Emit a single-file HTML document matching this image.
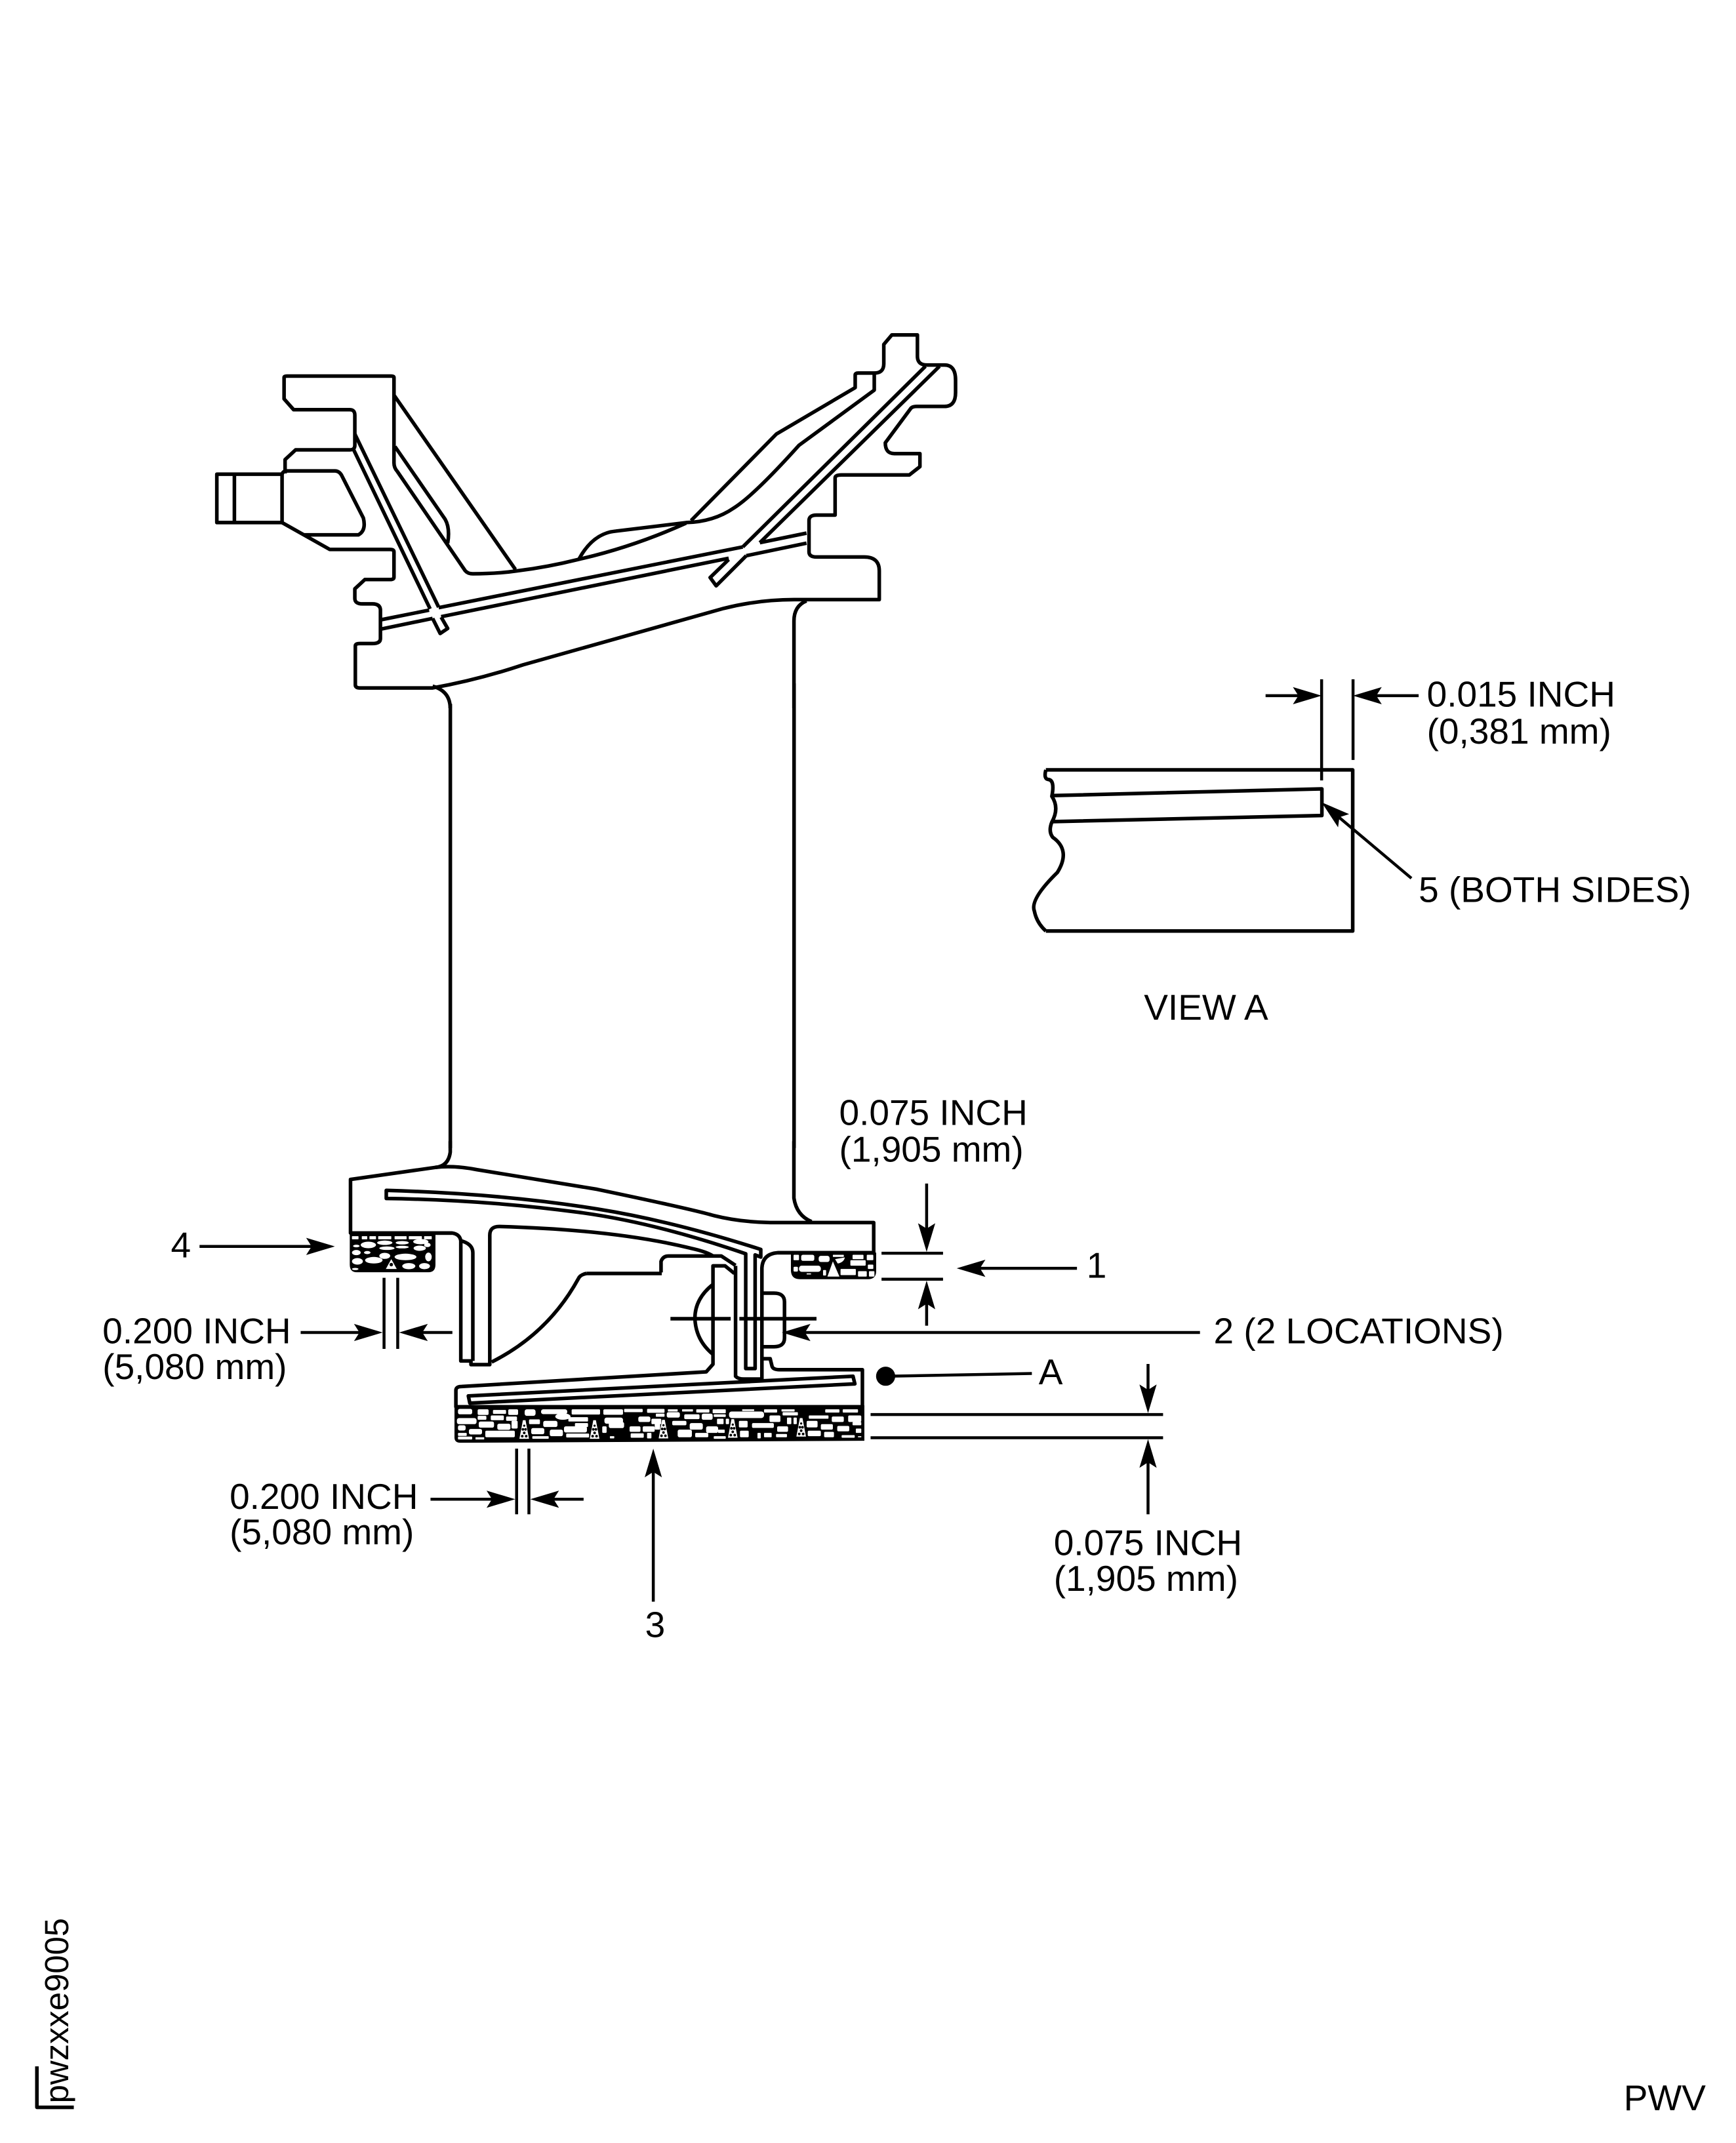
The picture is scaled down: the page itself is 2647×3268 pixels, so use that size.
<!DOCTYPE html>
<html><head><meta charset="utf-8"><style>
html,body{margin:0;padding:0;background:#fff}
svg{display:block}
path,line,rect{fill:none;stroke:#000;stroke-width:5.5;stroke-linejoin:round;vector-effect:non-scaling-stroke}
text{font-family:"Liberation Sans",sans-serif;font-size:26.4px;fill:#000;stroke:none}
.dim line{stroke-width:4.5}
g.w rect,g.w ellipse,g.w path{fill:#fff;stroke:none}
g.k rect,g.k path{fill:#000;stroke:none}
</style></head><body>
<svg width="2647" height="3268" viewBox="0 0 1270.2 1568" xmlns="http://www.w3.org/2000/svg">
<defs>
<path id="a" style="fill:#000;stroke:none" d="M0,0L-21,-6.3L-17,0L-21,6.3Z"/>
<g id="tri">
<path style="fill:#fff;stroke:none" d="M-22,0L-6,-85H6L22,0Z"/>
<g style="fill:#000"><circle cx="-9" cy="-12" r="6"/><circle cx="9" cy="-12" r="6"/><circle cx="0" cy="-27" r="6"/><circle cx="-6" cy="-43" r="6"/><circle cx="6" cy="-43" r="6"/><circle cx="0" cy="-60" r="5"/></g>
</g>
</defs>

<!-- main blade upper -->
<g transform="translate(143.96,230.3) scale(.3672,.1836)">
<path d="M393,320V250Q393,244 387,244H180Q174,244 174,250V335L193,378H305Q315,378 315,400V520Q315,538 305,538H197L176,577V632"/>
<path d="M170,635H40V828H170ZM75,635V828"/>
<path d="M170,635Q172,622 180,622H275Q285,622 290,645L332,810Q338,860 322,877H213"/>
<path d="M170,828L265,935H385Q393,935 393,945V1045Q393,1055 385,1055H335L315,1092V1130Q315,1152 330,1152H350Q365,1152 366,1175V1290Q366,1310 350,1310H325Q316,1310 316,1320V1475Q316,1487 325,1487H470Q560,1455 650,1395L1050,1170Q1120,1135 1190,1135H1360V1020Q1360,965 1330,965H1235Q1220,965 1220,945V820Q1220,798 1235,798H1272V650Q1272,638 1285,638H1420L1441,605V553H1390Q1372,553 1372,510L1422,375Q1425,365 1435,365H1490Q1512,365 1512,310V260Q1512,200 1490,200H1455Q1436,200 1436,165V80H1385L1369,118V195Q1369,232 1350,232H1318Q1312,232 1312,240V290L1155,475L985,820"/>
<path d="M315,475L482,1165M312,535L465,1172M470,1210L485,1270L500,1250L487,1205"/>
<path d="M368,1215L463,1177M482,1167L1088,925M368,1252L470,1210M487,1203L1060,970M1095,960L1215,910M1122,908L1215,870"/>
<path d="M1452,205L1088,925M1480,205L1122,908M1095,960L1035,1080L1023,1047L1060,975"/>
<path d="M393,320L635,1015"/>
<path d="M393,250V590Q393,610 400,625L535,1020Q540,1032 550,1032Q600,1032 640,1020Q700,1005 760,975Q870,925 975,830"/>
<path d="M395,525L495,815Q505,850 500,910"/>
<path d="M762,972Q790,870 835,862L975,828Q1030,825 1070,770Q1110,720 1200,520L1350,300V235"/>
<path d="M470,1480Q505,1500 505,1568M1215,1140Q1190,1160 1190,1220V1568"/>
</g>
<path d="M329.5,515V840M581,500V840"/>

<g transform="translate(230.3,835) scale(.2754,.16)">
<path d="M360,0V50Q355,115 320,120L95,175V420H365Q385,425 388,455V1005H415V1022H465V430Q465,390 490,390Q800,405 1000,490Q1040,505 1058,525"/>
<path d="M320,120Q370,110 430,130L750,220Q1000,310 1060,340Q1130,370 1210,372H1485V510H1230Q1190,515 1188,580V695H1220Q1248,695 1248,735V900Q1248,940 1220,940H1188V995H1210L1215,1030Q1218,1045 1235,1045H1455V1215H375V1140Q375,1122 390,1122L1040,1055L1058,1020V570H1090L1115,605"/>
<path d="M1273,0V260Q1280,340 1320,368"/>
<path d="M190,225Q500,240 750,310Q950,365 1185,495V530L1170,520V1040H1145V515Q900,370 700,325Q450,268 190,262Z"/>
<path d="M1118,570V1075Q1125,1088 1140,1088H1188V580"/>
<path d="M920,600V550Q925,525 940,525H1080L1118,568M722,605H922M722,605Q705,610 700,630Q620,880 470,1010"/>
<path d="M388,455Q420,470 420,510V1005"/>
<path d="M408,1165L1430,1075L1435,1110L412,1198Z"/>
<path d="M1058,655Q1010,720 1010,810Q1012,910 1058,975"/>
<path d="M945,812H1105M1128,812H1333"/>
</g>

<!-- seals in full-pixel coordinates -->
<g transform="scale(.47985)">
 <!-- large bottom seal -->
 <g class="k"><path d="M693,2143H1318V2197L702,2200Q693,2200 693,2192Z"/></g>
 <g transform="translate(685,2125) scale(.3333)">
  <g class="w">
   <rect x="40" y="70" width="65" height="25" rx="8"/><rect x="130" y="72" width="50" height="26" rx="6"/><rect x="200" y="75" width="60" height="18" rx="4"/><rect x="270" y="72" width="45" height="26" rx="6"/><rect x="345" y="72" width="50" height="30" rx="10"/><rect x="420" y="72" width="120" height="22" rx="10"/><rect x="560" y="72" width="130" height="24" rx="5"/><rect x="705" y="72" width="90" height="25" rx="6"/><rect x="800" y="70" width="85" height="15" rx="3"/><rect x="905" y="70" width="80" height="18" rx="4"/>
   <rect x="35" y="112" width="90" height="28" rx="10"/><rect x="130" y="102" width="40" height="18" rx="5"/><rect x="190" y="100" width="60" height="22" rx="5"/><rect x="260" y="105" width="50" height="20" rx="5"/><rect x="365" y="118" width="50" height="22" rx="5"/><rect x="430" y="125" width="65" height="28" rx="8"/><ellipse cx="520" cy="105" rx="35" ry="15"/><rect x="545" y="108" width="90" height="20" rx="4"/><rect x="575" y="135" width="60" height="18" rx="4"/><rect x="710" y="110" width="85" height="28" rx="10"/><rect x="865" y="105" width="55" height="25" rx="8"/><rect x="925" y="115" width="45" height="25" rx="5"/>
   <rect x="40" y="145" width="35" height="24" rx="8"/><rect x="135" y="128" width="70" height="28" rx="8"/><rect x="220" y="138" width="60" height="28" rx="8"/><rect x="285" y="125" width="28" height="35" rx="5"/><rect x="375" y="158" width="60" height="28" rx="8"/><rect x="525" y="150" width="105" height="28" rx="8"/><rect x="700" y="150" width="20" height="30" rx="5"/><rect x="730" y="130" width="70" height="28" rx="8"/><rect x="825" y="150" width="50" height="25" rx="6"/><rect x="885" y="150" width="55" height="25" rx="6"/><rect x="940" y="130" width="25" height="35" rx="4"/>
   <rect x="90" y="162" width="60" height="25" rx="8"/><rect x="165" y="170" width="135" height="30" rx="6"/><rect x="40" y="180" width="40" height="14" rx="3"/><rect x="380" y="195" width="75" height="12" rx="3"/><rect x="460" y="165" width="60" height="30" rx="8"/><rect x="535" y="183" width="105" height="18" rx="4"/><rect x="830" y="182" width="60" height="20" rx="4"/><rect x="905" y="180" width="20" height="25" rx="3"/><rect x="40" y="197" width="65" height="13" rx="3"/><rect x="120" y="200" width="40" height="10" rx="2"/><rect x="735" y="195" width="20" height="10" rx="2"/>
  </g>
  <use href="#tri" transform="translate(343,207)"/>
  <use href="#tri" transform="translate(665,207)"/>
 </g>
 <g transform="translate(1000,2125) scale(.3333)">
  <g class="w">
   <rect x="0" y="72" width="30" height="14" rx="3"/><rect x="55" y="72" width="45" height="10" rx="2"/><rect x="120" y="72" width="50" height="10" rx="2"/><rect x="185" y="72" width="60" height="15" rx="3"/><rect x="260" y="72" width="60" height="18" rx="3"/><rect x="395" y="72" width="55" height="8" rx="2"/><rect x="495" y="72" width="60" height="15" rx="3"/><rect x="575" y="72" width="60" height="10" rx="2"/><rect x="775" y="72" width="65" height="15" rx="3"/><rect x="855" y="72" width="70" height="15" rx="3"/>
   <rect x="0" y="92" width="40" height="14" rx="3"/><rect x="50" y="85" width="60" height="25" rx="8"/><rect x="130" y="95" width="70" height="22" rx="6"/><rect x="210" y="92" width="50" height="28" rx="8"/><rect x="335" y="82" width="160" height="30" rx="12"/><rect x="265" y="95" width="55" height="12" rx="3"/><rect x="520" y="100" width="50" height="30" rx="6"/><rect x="580" y="85" width="70" height="15" rx="3"/><rect x="700" y="100" width="90" height="15" rx="3"/><rect x="805" y="105" width="55" height="25" rx="6"/><rect x="880" y="100" width="60" height="30" rx="6"/>
   <rect x="75" y="125" width="65" height="20" rx="6"/><rect x="155" y="135" width="60" height="30" rx="8"/><rect x="230" y="150" width="55" height="30" rx="8"/><rect x="280" y="115" width="30" height="25" rx="3"/><rect x="320" y="115" width="15" height="25" rx="3"/><rect x="380" y="125" width="40" height="30" rx="5"/><rect x="440" y="135" width="100" height="22" rx="6"/><rect x="555" y="150" width="50" height="25" rx="6"/><rect x="600" y="110" width="20" height="30" rx="3"/><rect x="630" y="110" width="15" height="30" rx="3"/><rect x="690" y="125" width="50" height="30" rx="6"/><rect x="755" y="140" width="55" height="25" rx="6"/><rect x="830" y="148" width="55" height="25" rx="6"/><rect x="900" y="130" width="40" height="15" rx="3"/><rect x="915" y="160" width="25" height="20" rx="3"/>
   <rect x="100" y="165" width="65" height="35" rx="8"/><rect x="180" y="180" width="60" height="20" rx="5"/><rect x="265" y="195" width="55" height="12" rx="3"/><rect x="385" y="170" width="40" height="30" rx="5"/><rect x="465" y="180" width="15" height="25" rx="3"/><rect x="495" y="180" width="35" height="20" rx="3"/><rect x="550" y="185" width="50" height="15" rx="3"/><rect x="695" y="170" width="60" height="25" rx="6"/><rect x="770" y="175" width="45" height="25" rx="5"/><rect x="850" y="190" width="60" height="12" rx="3"/><rect x="925" y="195" width="15" height="5"/><rect x="285" y="165" width="30" height="15" rx="2"/>
  </g>
  <use href="#tri" transform="translate(35,205)"/>
  <use href="#tri" transform="translate(352,202)"/>
  <use href="#tri" transform="translate(665,197)"/>
 </g>

 <!-- small seal 4 -->
 <g transform="translate(520,1860) scale(.3333)">
  <g class="k"><path d="M40,65H432V205Q432,240 400,240H72Q40,240 40,205Z"/></g>
  <g class="w">
   <rect x="50" y="75" width="30" height="14" rx="2"/><rect x="95" y="75" width="25" height="14" rx="2"/><rect x="130" y="75" width="30" height="14" rx="2"/><rect x="170" y="75" width="60" height="14" rx="2"/><rect x="245" y="75" width="55" height="14" rx="2"/><rect x="310" y="75" width="60" height="14" rx="2"/><rect x="380" y="75" width="35" height="14" rx="2"/>
   <ellipse cx="125" cy="115" rx="35" ry="15"/><ellipse cx="200" cy="105" rx="35" ry="10"/><ellipse cx="280" cy="105" rx="30" ry="8"/><ellipse cx="365" cy="100" rx="35" ry="12"/><ellipse cx="280" cy="125" rx="30" ry="6"/><ellipse cx="210" cy="130" rx="35" ry="8"/><ellipse cx="360" cy="130" rx="28" ry="12"/><ellipse cx="150" cy="185" rx="40" ry="15"/><ellipse cx="70" cy="120" rx="15" ry="6"/><ellipse cx="70" cy="150" rx="20" ry="12"/><ellipse cx="75" cy="190" rx="25" ry="15"/><ellipse cx="120" cy="150" rx="15" ry="7"/><ellipse cx="295" cy="170" rx="50" ry="15"/><ellipse cx="400" cy="170" rx="15" ry="20"/><ellipse cx="310" cy="212" rx="30" ry="14"/><ellipse cx="382" cy="212" rx="25" ry="14"/><ellipse cx="200" cy="165" rx="25" ry="14"/><ellipse cx="65" cy="225" rx="15" ry="5"/><ellipse cx="395" cy="115" rx="15" ry="10"/>
   <path d="M205,225L230,180L255,225Z"/>
  </g>
  <circle cx="230" cy="205" r="8" style="fill:#000"/>
 </g>

 <!-- right seal -->
 <g transform="translate(1190,1880) scale(.3333)">
  <g class="k"><path d="M48,90H438V175Q438,212 400,212H90Q48,212 48,170Z"/></g>
  <g class="w">
   <rect x="60" y="100" width="25" height="25" rx="3"/><rect x="95" y="100" width="60" height="28" rx="8"/><rect x="175" y="105" width="50" height="28" rx="10"/><rect x="240" y="100" width="50" height="10" rx="2"/><rect x="330" y="100" width="50" height="20" rx="3"/><rect x="395" y="100" width="30" height="25" rx="3"/><rect x="85" y="150" width="100" height="28" rx="12"/><rect x="120" y="185" width="20" height="5"/><rect x="320" y="125" width="70" height="25" rx="4"/><rect x="400" y="145" width="25" height="20" rx="3"/><rect x="275" y="165" width="70" height="28" rx="3"/><rect x="355" y="175" width="40" height="25" rx="3"/><rect x="405" y="175" width="25" height="25" rx="3"/><rect x="60" y="155" width="20" height="22" rx="5"/><rect x="195" y="170" width="14" height="25" rx="3"/>
   <path d="M215,200L240,130L270,200Z"/><path d="M250,120L295,112Q290,135 262,140Z"/>
  </g>
 </g>
</g>

<!-- re-stroke lines adjacent to seals -->
<g transform="translate(230.3,835) scale(.2754,.16)">
<path d="M95,420H365M1230,510H1485M375,1215H1455"/>
</g>

<!-- view A -->
<g transform="translate(719.8,479.8) scale(.3366,.1714)">
<path d="M135,487H802V1175H135"/>
<path d="M135,487Q130,525 140,528Q155,530 148,600Q165,650 148,710Q140,750 150,775Q190,830 160,925Q100,1040 110,1090Q115,1140 135,1175"/>
<path d="M148,597L735,568V682L148,708"/>
</g>
<g class="dim">
<line x1="967" y1="497" x2="967" y2="571"/>
<line x1="990" y1="497" x2="990" y2="556"/>
<line x1="926" y1="509" x2="960" y2="509"/>
<line x1="1038" y1="509" x2="1000" y2="509"/>
<use href="#a" transform="translate(967,509)"/>
<use href="#a" transform="translate(990,509) rotate(180)"/>
<line x1="1032.7" y1="642.6" x2="975" y2="594"/>
<use href="#a" transform="translate(967,587) rotate(220)"/>

<!-- 0.075 right -->
<line x1="645" y1="917" x2="690" y2="917"/>
<line x1="645" y1="936" x2="690" y2="936"/>
<line x1="678" y1="866" x2="678" y2="905"/>
<line x1="678" y1="970" x2="678" y2="948"/>
<use href="#a" transform="translate(678,916) rotate(90)"/>
<use href="#a" transform="translate(678,937) rotate(-90)"/>
<!-- 1 -->
<line x1="788" y1="928" x2="710" y2="928"/>
<use href="#a" transform="translate(700,928) rotate(180)"/>
<!-- 2 -->
<line x1="878" y1="975" x2="585" y2="975"/>
<use href="#a" transform="translate(572,975) rotate(180)"/>
<!-- A -->
<circle cx="648" cy="1007" r="7" style="fill:#000"/>
<line x1="648" y1="1007" x2="755" y2="1005"/>
<!-- bottom dim -->
<line x1="637" y1="1035" x2="851" y2="1035"/>
<line x1="637" y1="1052" x2="851" y2="1052"/>
<line x1="840" y1="998" x2="840" y2="1020"/>
<line x1="840" y1="1108" x2="840" y2="1065"/>
<use href="#a" transform="translate(840,1034) rotate(90)"/>
<use href="#a" transform="translate(840,1053) rotate(-90)"/>
<!-- 3 -->
<line x1="478" y1="1172" x2="478" y2="1075"/>
<use href="#a" transform="translate(478,1060) rotate(-90)"/>
<!-- 0.200 bottom -->
<line x1="378" y1="1060" x2="378" y2="1108"/>
<line x1="387" y1="1060" x2="387" y2="1108"/>
<line x1="315" y1="1097" x2="365" y2="1097"/>
<line x1="427" y1="1097" x2="400" y2="1097"/>
<use href="#a" transform="translate(377,1097)"/>
<use href="#a" transform="translate(388,1097) rotate(180)"/>
<!-- 0.200 left -->
<line x1="281" y1="935" x2="281" y2="987"/>
<line x1="291" y1="935" x2="291" y2="987"/>
<line x1="220" y1="975" x2="268" y2="975"/>
<line x1="331" y1="975" x2="304" y2="975"/>
<use href="#a" transform="translate(280,975)"/>
<use href="#a" transform="translate(292,975) rotate(180)"/>
<!-- 4 -->
<line x1="146" y1="912" x2="232" y2="912"/>
<use href="#a" transform="translate(245,912)"/>
<!-- corner -->
<path d="M27,1512V1542H54"/>
</g>

<text x="1044" y="517">0.015 INCH</text>
<text x="1044" y="544">(0,381 mm)</text>
<text x="1038" y="660">5 (BOTH SIDES)</text>
<text x="837" y="746">VIEW A</text>
<text x="614" y="823">0.075 INCH</text>
<text x="614" y="850">(1,905 mm)</text>
<text x="795" y="935">1</text>
<text x="888" y="983">2 (2 LOCATIONS)</text>
<text x="125" y="920">4</text>
<text x="760" y="1013">A</text>
<text x="75" y="983">0.200 INCH</text>
<text x="75" y="1009">(5,080 mm)</text>
<text x="168" y="1104">0.200 INCH</text>
<text x="168" y="1130">(5,080 mm)</text>
<text x="771" y="1138">0.075 INCH</text>
<text x="771" y="1164">(1,905 mm)</text>
<text x="472" y="1198">3</text>
<text x="1188" y="1544">PWV</text>
<text transform="translate(50,1539) rotate(-90)" style="font-size:24.4px">pwzxxe9005</text>
</svg>
</body></html>
